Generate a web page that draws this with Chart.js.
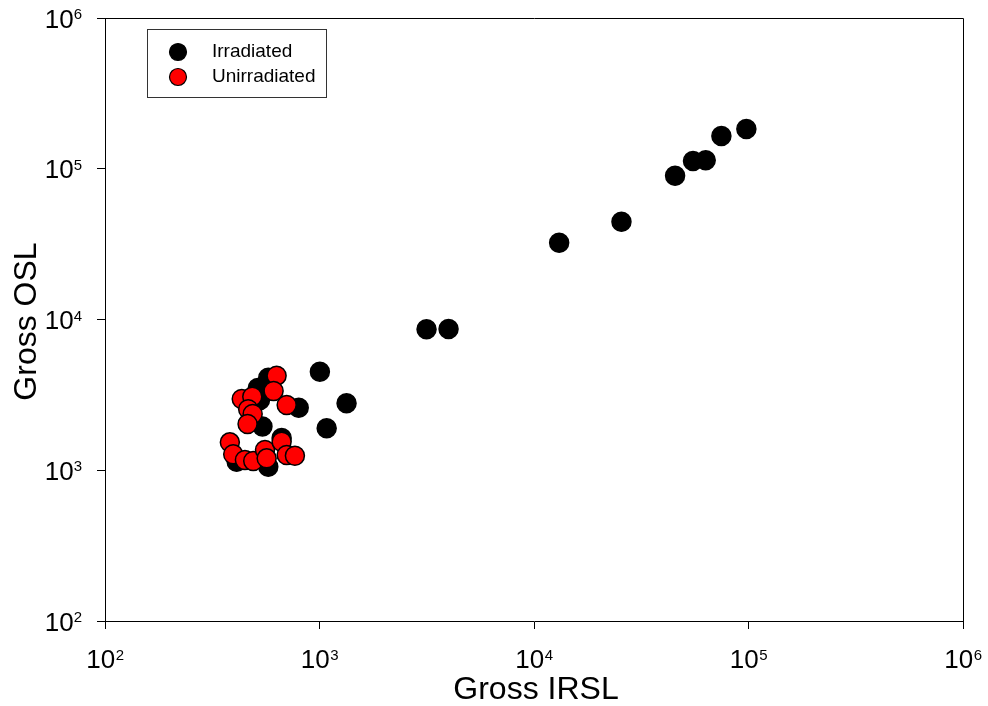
<!DOCTYPE html>
<html>
<head>
<meta charset="utf-8">
<script src="https://cdn.jsdelivr.net/npm/chart.js@4/dist/chart.umd.min.js"></script>
<style>
  html, body { margin: 0; padding: 0; background: #fff; }
  #wrap { width: 988px; height: 706px; position: relative; }
</style>
</head>
<body>
<div id="wrap"><canvas id="c"></canvas></div>
<script>
// ---- Data ----
const irradiatedIRSL = [577, 516, 528, 800, 542, 666, 411, 577, 1004, 1337, 1080,
                        3155, 3996, 13100, 25570, 45470, 55120, 63170, 74750, 97730];
const irradiatedOSL  = [4100, 3512, 2924, 2600, 1950, 1637, 1139, 1056, 4510, 2780, 1898,
                        8610, 8640, 32320, 44560, 89950, 112600, 113800, 164800, 183500];
const unirradiatedIRSL = [631, 611, 434, 486, 465, 488, 462, 703, 382, 396, 449, 491, 557, 567, 666, 703, 768];
const unirradiatedOSL  = [4240, 3355, 2970, 3076, 2537, 2361, 2027, 2710, 1532, 1276, 1170, 1151, 1362, 1200, 1546, 1262, 1249];
const tickExponents = [2, 3, 4, 5, 6];
const seriesNames = ['Irradiated', 'Unirradiated'];
const xTitle = 'Gross IRSL';
const yTitle = 'Gross OSL';

const toPoints = (xs, ys) => xs.map((x, i) => ({ x: x, y: ys[i] }));
const FONT = '"Liberation Sans", Arial, sans-serif';

const decorPlugin = {
  id: 'decor',
  afterDraw(chart) {
    const ctx = chart.ctx;
    const a = chart.chartArea;
    const xs = chart.scales.x, ys = chart.scales.y;
    ctx.save();
    // frame (top & right)
    ctx.strokeStyle = '#000';
    ctx.lineWidth = 1;
    ctx.beginPath();
    ctx.moveTo(Math.round(a.left) + 0.5, Math.round(a.top) + 0.5);
    ctx.lineTo(Math.round(a.right) + 0.5, Math.round(a.top) + 0.5);
    ctx.lineTo(Math.round(a.right) + 0.5, Math.round(a.bottom) + 0.5);
    ctx.stroke();

    ctx.fillStyle = '#000';
    // x tick labels
    tickExponents.forEach(e => {
      const px = xs.getPixelForValue(Math.pow(10, e));
      ctx.font = '26px ' + FONT;
      const w10 = ctx.measureText('10').width;
      ctx.font = '15px ' + FONT;
      const wE = ctx.measureText(String(e)).width;
      const left = px - (w10 + wE) / 2;
      ctx.textAlign = 'left';
      ctx.textBaseline = 'alphabetic';
      ctx.font = '26px ' + FONT;
      ctx.fillText('10', left, a.bottom + 47);
      ctx.font = '15px ' + FONT;
      ctx.fillText(String(e), left + w10 + 0.5, a.bottom + 39);
    });
    // y tick labels
    tickExponents.forEach(e => {
      const py = ys.getPixelForValue(Math.pow(10, e));
      ctx.font = '15px ' + FONT;
      const wE = ctx.measureText(String(e)).width;
      ctx.font = '26px ' + FONT;
      const w10 = ctx.measureText('10').width;
      const right = a.left - 23;
      ctx.textAlign = 'left';
      ctx.textBaseline = 'alphabetic';
      ctx.fillText('10', right - wE - w10, py + 9.5);
      ctx.font = '15px ' + FONT;
      ctx.fillText(String(e), right - wE, py + 1);
    });
    // axis titles
    ctx.font = '32px ' + FONT;
    ctx.textAlign = 'center';
    ctx.textBaseline = 'alphabetic';
    ctx.fillText(xTitle, (a.left + a.right) / 2 + 2, a.bottom + 78);
    ctx.save();
    ctx.translate(36, (a.top + a.bottom) / 2 + 2);
    ctx.rotate(-Math.PI / 2);
    ctx.fillText(yTitle, 0, 0);
    ctx.restore();

    // legend
    const lx = a.left + 42, ly = a.top + 11;
    ctx.strokeStyle = '#333';
    ctx.lineWidth = 1;
    ctx.strokeRect(Math.round(lx) + 0.5, Math.round(ly) + 0.5, 179, 68);
    const colors = ['#000000', '#ff0000'];
    seriesNames.forEach((name, i) => {
      const cy = ly + 23 + i * 25;
      ctx.beginPath();
      ctx.arc(lx + 31, cy, 8.5, 0, Math.PI * 2);
      ctx.fillStyle = colors[i];
      ctx.fill();
      ctx.strokeStyle = '#000';
      ctx.lineWidth = 1.2;
      ctx.stroke();
      ctx.fillStyle = '#000';
      ctx.font = '19px ' + FONT;
      ctx.textAlign = 'left';
      ctx.textBaseline = 'middle';
      ctx.fillText(name, lx + 65, cy);
    });
    ctx.restore();
  }
};

const powTicks = scale => { scale.ticks = tickExponents.map(e => ({ value: Math.pow(10, e) })); };

new Chart(document.getElementById('c'), {
  type: 'scatter',
  data: {
    datasets: [
      {
        label: seriesNames[0],
        data: toPoints(irradiatedIRSL, irradiatedOSL),
        backgroundColor: '#000000',
        borderColor: '#000000',
        borderWidth: 1.5,
        pointRadius: 9.5,
        order: 1
      },
      {
        label: seriesNames[1],
        data: toPoints(unirradiatedIRSL, unirradiatedOSL),
        backgroundColor: '#ff0000',
        borderColor: '#000000',
        borderWidth: 1.5,
        pointRadius: 9.5,
        order: 0
      }
    ]
  },
  options: {
    responsive: true,
    maintainAspectRatio: false,
    animation: false,
    events: [],
    layout: { padding: { top: 18, right: 25, left: 0, bottom: 0 } },
    plugins: { legend: { display: false }, tooltip: { enabled: false } },
    scales: {
      x: {
        type: 'logarithmic',
        min: 100, max: 1000000,
        afterBuildTicks: powTicks,
        afterFit: s => { s.height = 85; },
        ticks: { display: false },
        grid: { drawOnChartArea: false, drawTicks: true, tickLength: 8, color: '#000', lineWidth: 1 },
        border: { display: true, color: '#000', width: 1 }
      },
      y: {
        type: 'logarithmic',
        min: 100, max: 1000000,
        afterBuildTicks: powTicks,
        afterFit: s => { s.width = 105; },
        ticks: { display: false },
        grid: { drawOnChartArea: false, drawTicks: true, tickLength: 8, color: '#000', lineWidth: 1 },
        border: { display: true, color: '#000', width: 1 }
      }
    }
  },
  plugins: [decorPlugin]
});
</script>
</body>
</html>
